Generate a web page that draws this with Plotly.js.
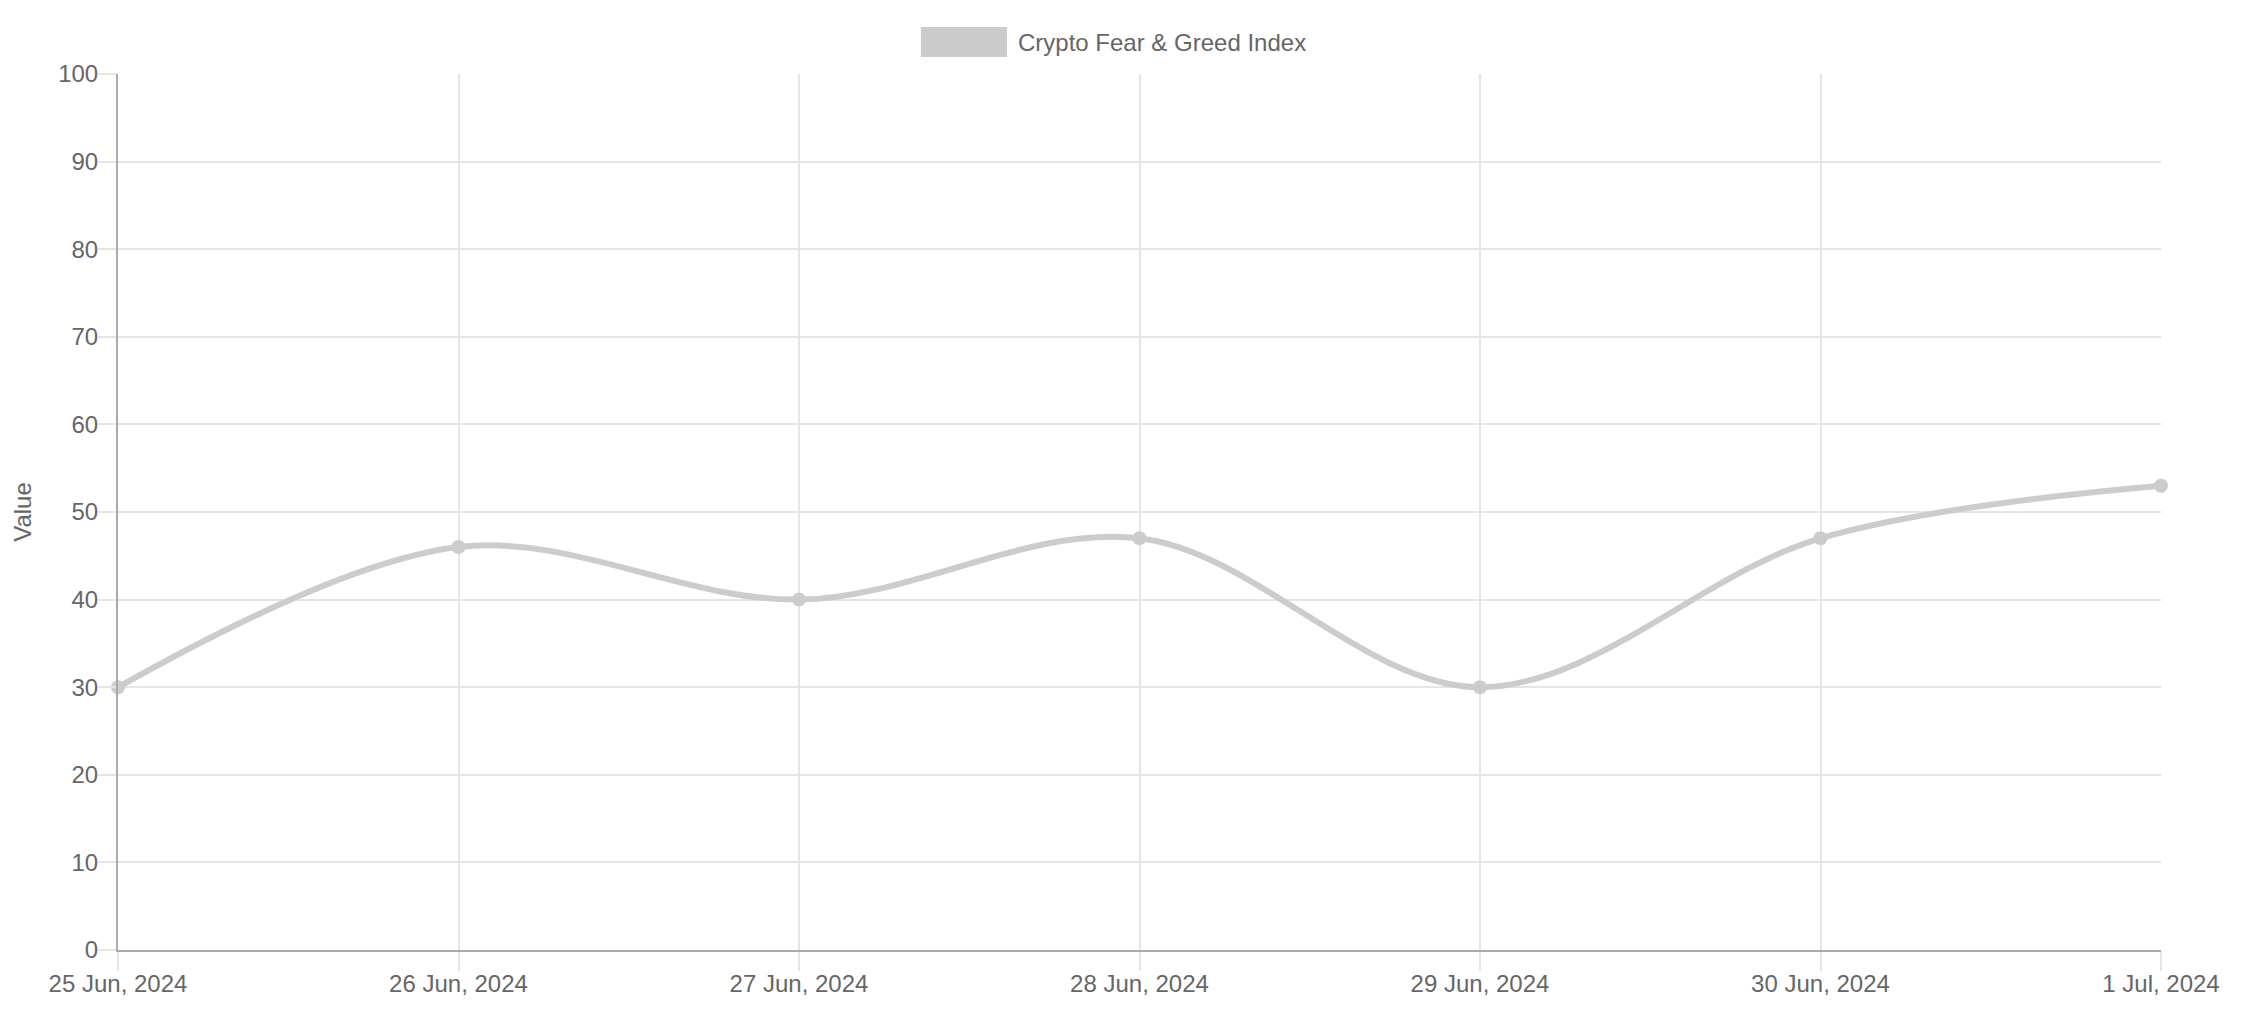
<!DOCTYPE html>
<html>
<head>
<meta charset="utf-8">
<script src="https://cdn.plot.ly/plotly-3.0.1.min.js"></script>
<style>
  html, body { margin: 0; padding: 0; background: #ffffff; }
  #chart { width: 2258px; height: 1034px; }
</style>
</head>
<body>
<div id="chart"></div>
<script>
// data
const dates = ['2024-06-25', '2024-06-26', '2024-06-27', '2024-06-28', '2024-06-29', '2024-06-30', '2024-07-01'];
const values = [30, 46, 40, 47, 30, 47, 53];
const seriesName = 'Crypto Fear & Greed Index';

const textColor = '#666666';
const gridColor = '#e5e5e5';
const lineColor = '#cccccc';
const fontFamily = '"Liberation Sans", Arial, Helvetica, sans-serif';

const trace = {
    x: dates,
    y: values,
    type: 'scatter',
    mode: 'lines+markers',
    name: seriesName,
    line: { color: lineColor, width: 6, shape: 'spline', smoothing: 1 },
    marker: { color: lineColor, size: 14 },
    cliponaxis: false,
    showlegend: false,
    hoverinfo: 'x+y'
};

const layout = {
    width: 2258,
    height: 1034,
    paper_bgcolor: '#ffffff',
    plot_bgcolor: '#ffffff',
    font: { family: fontFamily, size: 24, color: textColor },
    margin: { l: 118, r: 97, t: 74, b: 84 },
    showlegend: false,
    xaxis: {
        type: 'date',
        range: [dates[0], dates[dates.length - 1]],
        tickmode: 'array',
        tickvals: dates,
        tickformat: '%-d %b, %Y',
        showgrid: true,
        gridcolor: gridColor,
        gridwidth: 2,
        showline: true,
        linecolor: '#aaaaaa',
        linewidth: 2,
        ticks: 'outside',
        ticklen: 19,
        tickwidth: 2,
        tickcolor: gridColor,
        ticklabelstandoff: -8,
        zeroline: false,
        tickfont: { size: 24, color: textColor }
    },
    yaxis: {
        range: [0, 100],
        dtick: 10,
        showgrid: true,
        gridcolor: gridColor,
        gridwidth: 2,
        showline: true,
        linecolor: '#aaaaaa',
        linewidth: 2,
        ticks: 'outside',
        ticklen: 18,
        tickwidth: 2,
        tickcolor: gridColor,
        ticklabelstandoff: -5,
        zeroline: false,
        tickfont: { size: 24, color: textColor },
        title: { text: 'Value', font: { size: 24, color: textColor }, standoff: 20 }
    },
    // legend drawn by hand so it shows a filled box like the original
    shapes: [{
        type: 'rect',
        xref: 'paper', yref: 'paper',
        x0: 0.3930, x1: 0.4351, y0: 1.0194, y1: 1.0537,
        fillcolor: lineColor,
        line: { width: 0 }
    }],
    annotations: [{
        xref: 'paper', yref: 'paper',
        x: 0.4395, y: 1.0365,
        xanchor: 'left', yanchor: 'middle',
        text: seriesName,
        showarrow: false,
        font: { size: 24, color: textColor }
    }]
};

Plotly.newPlot('chart', [trace], layout, { displayModeBar: false, responsive: false });
</script>
</body>
</html>
